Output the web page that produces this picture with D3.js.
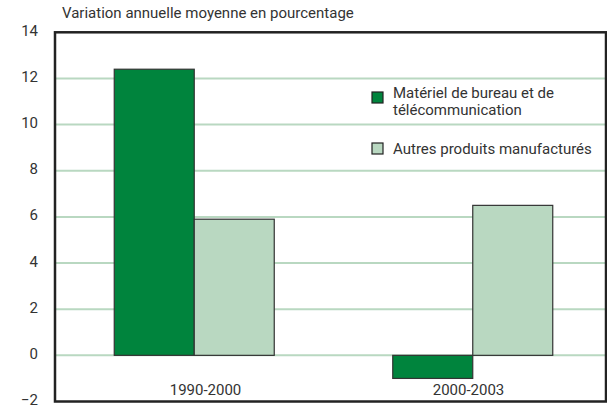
<!DOCTYPE html>
<html>
<head>
<meta charset="utf-8">
<script src="https://cdn.jsdelivr.net/npm/d3@7"></script>
<style>
  body { margin: 0; background: #fff; }
  text { font-family: Roboto, "Open Sans", sans-serif; fill: #333; }
</style>
</head>
<body>
<div class="chart"></div>
<script>
// data
var categories = ["1990-2000", "2000-2003"];
var seriesNames = ["Matériel de bureau et de télécommunication", "Autres produits manufacturés"];
var officeTelecom = [12.4, -1.0];
var otherManuf = [5.9, 6.5];
var yTicks = [-2, 0, 2, 4, 6, 8, 10, 12, 14];

var svgWidth = 607;
var svgHeight = 405;
var margin = { top: 32.3, right: 1, bottom: 3.5, left: 55 };
var width = svgWidth - margin.left - margin.right;
var height = svgHeight - margin.top - margin.bottom;

var colors = ["#00843d", "#b9d8c1"];

var svg = d3.select(".chart").append("svg")
    .attr("width", svgWidth)
    .attr("height", svgHeight);

var chartGroup = svg.append("g")
    .attr("transform", `translate(${margin.left}, ${margin.top})`);

var yScale = d3.scaleLinear().domain([-2, 14]).range([height, 0]);

// bands run a little past the right frame, as in the original
var xScale = d3.scaleBand().domain(categories).range([0, width + 6]);
var xInner = d3.scaleBand().domain([0, 1]).range([0, 160]);

// gridlines
chartGroup.selectAll(".grid")
    .data(yTicks.filter(d => d > -2 && d < 14))
    .enter().append("line")
    .attr("x1", 0).attr("x2", width)
    .attr("y1", d => yScale(d)).attr("y2", d => yScale(d))
    .attr("stroke", "#b9d8c1")
    .attr("stroke-width", 2);

// y axis labels
var leftAxis = d3.axisLeft(yScale).tickValues(yTicks).tickSize(0).tickPadding(17);
var yAxisG = chartGroup.append("g").call(leftAxis);
yAxisG.select(".domain").remove();
yAxisG.selectAll("text")
    .style("font-size", "15px")
    .attr("fill", "#333")
    .attr("font-family", null)
    .attr("dy", "0.2em");

// bars
var rows = [];
categories.forEach(function(c, i) {
    rows.push({ cat: c, s: 0, v: officeTelecom[i] });
    rows.push({ cat: c, s: 1, v: otherManuf[i] });
});

chartGroup.selectAll(".bar")
    .data(rows)
    .enter().append("rect")
    .attr("x", d => xScale(d.cat) + (xScale.bandwidth() - 160) / 2 + xInner(d.s))
    .attr("width", xInner.bandwidth())
    .attr("y", d => yScale(Math.max(0, d.v)))
    .attr("height", d => Math.abs(yScale(d.v) - yScale(0)))
    .attr("fill", d => colors[d.s])
    .attr("stroke", "#333")
    .attr("stroke-width", 1.2);

// category labels
var labelScale = d3.scaleBand().domain(categories).range([19, 545]);
chartGroup.selectAll(".cat")
    .data(categories)
    .enter().append("text")
    .attr("x", d => labelScale(d) + labelScale.bandwidth() / 2)
    .attr("y", height - 6)
    .attr("text-anchor", "middle")
    .style("font-size", "15px")
    .text(d => d);

// frame
chartGroup.append("rect")
    .attr("x", 0).attr("y", 0)
    .attr("width", width).attr("height", height)
    .attr("fill", "none")
    .attr("stroke", "#222")
    .attr("stroke-width", 2.5);

// title
svg.append("text")
    .attr("x", 62).attr("y", 18)
    .style("font-size", "15px")
    .text("Variation annuelle moyenne en pourcentage");

// legend
var legend = svg.append("g").attr("transform", "translate(372, 92)");
legend.append("rect").attr("x", 0).attr("y", 0).attr("width", 11).attr("height", 11)
    .attr("fill", colors[0]).attr("stroke", "#222").attr("stroke-width", 1.2);
legend.append("text").attr("x", 21).attr("y", 6).style("font-size", "15px").text("Matériel de bureau et de");
legend.append("text").attr("x", 21).attr("y", 23).style("font-size", "15px").text("télécommunication");
legend.append("rect").attr("x", 0).attr("y", 51).attr("width", 11).attr("height", 11)
    .attr("fill", colors[1]).attr("stroke", "#222").attr("stroke-width", 1.2);
legend.append("text").attr("x", 21).attr("y", 62).style("font-size", "15px").text("Autres produits manufacturés");
</script>
</body>
</html>
